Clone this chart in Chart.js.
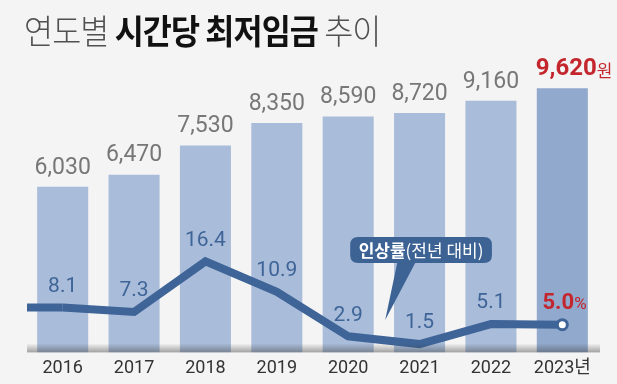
<!DOCTYPE html>
<html>
<head>
<meta charset="utf-8">
<script src="https://cdn.jsdelivr.net/npm/chart.js@4"></script>
<style>
  html, body { margin: 0; padding: 0; background: #f4f4f4; }
  #wrap { position: relative; width: 617px; height: 384px; }
  #title {
    position: absolute; left: 24px; top: 13px; white-space: nowrap;
    font-family: "Noto Sans CJK KR", sans-serif; font-size: 34px; line-height: 34px;
    letter-spacing: -1px; transform: scaleX(0.93); transform-origin: left center;
    color: #505050;
  }
  #title .lt { font-weight: 300; }
  #title b { font-weight: 700; color: #111; }
</style>
</head>
<body>
<div id="wrap">
  <canvas id="wageChart" width="617" height="384"></canvas>
  <div id="title"><span class="lt">연도별</span> <b>시간당 최저임금</b> <span class="lt">추이</span></div>
</div>
<script>
const years = ["2016", "2017", "2018", "2019", "2020", "2021", "2022", "2023"];
const yearLabels = ["2016", "2017", "2018", "2019", "2020", "2021", "2022", "2023년"];
const wages = [6030, 6470, 7530, 8350, 8590, 8720, 9160, 9620];
const rates = [8.1, 7.3, 16.4, 10.9, 2.9, 1.5, 5.1, 5.0];

const FONT = 'Roboto, "Noto Sans CJK KR", sans-serif';
const KFONT = '"Noto Sans CJK KR", sans-serif';
const lineBlue = "#3e6498";
const red = "#c4262e";

const fmt = (n) => n.toLocaleString("en-US");

// extends line to the left, draws axis shadow, labels and callout
const extras = {
  id: "extras",
  afterDatasetsDraw(chart) {
    const ctx = chart.ctx;
    const area = chart.chartArea;
    const barMeta = chart.getDatasetMeta(0);
    const lineMeta = chart.getDatasetMeta(1);
    const last = wages.length - 1;

    ctx.save();
    // bottom shadow
    const g = ctx.createLinearGradient(0, area.bottom - 9, 0, area.bottom);
    g.addColorStop(0, "rgba(60,60,60,0)");
    g.addColorStop(1, "rgba(60,60,60,0.45)");
    ctx.fillStyle = g;
    ctx.fillRect(area.left, area.bottom - 9, area.right - area.left + 2, 9);

    // line lead-in from the left edge
    const p0 = lineMeta.data[0];
    ctx.strokeStyle = lineBlue;
    ctx.lineWidth = 8;
    ctx.beginPath();
    ctx.moveTo(area.left, p0.y);
    ctx.lineTo(p0.x, p0.y);
    ctx.stroke();

    // wage labels
    ctx.textBaseline = "middle";
    barMeta.data.forEach((bar, i) => {
      const y = bar.y - 19;
      if (i === last) {
        ctx.font = "700 24px " + FONT;
        const w = ctx.measureText(fmt(wages[i])).width;
        ctx.fillStyle = red;
        ctx.textAlign = "left";
        ctx.fillText(fmt(wages[i]), bar.x - w / 2 + 4, y);
        ctx.font = "400 17px " + KFONT;
        ctx.fillText("원", bar.x + w / 2 + 4, y + 1);
      } else {
        ctx.font = "400 23px " + FONT;
        ctx.fillStyle = "#777";
        ctx.textAlign = "center";
        ctx.fillText(fmt(wages[i]), bar.x, y);
      }
    });

    // rate labels
    lineMeta.data.forEach((pt, i) => {
      const y = pt.y - 21;
      if (i === last) {
        ctx.font = "700 22px " + FONT;
        const w = ctx.measureText(rates[i].toFixed(1)).width;
        ctx.fillStyle = red;
        ctx.textAlign = "left";
        ctx.fillText(rates[i].toFixed(1), pt.x - w / 2 - 4, y);
        ctx.font = "400 17px " + FONT;
        ctx.fillText("%", pt.x + w / 2 - 4, y + 1);
      } else {
        ctx.font = "400 21px " + FONT;
        ctx.fillStyle = lineBlue;
        ctx.textAlign = "center";
        ctx.fillText(rates[i].toFixed(1), pt.x, y);
      }
    });

    // callout
    const xs = chart.scales.x;
    const bx1 = xs.getPixelForValue(4) + 2;
    const bx2 = xs.getPixelForValue(6) + 1;
    const by1 = area.top + 162;
    const by2 = area.top + 188;
    const r = 8;
    ctx.fillStyle = "#3d6395";
    ctx.beginPath();
    ctx.moveTo(bx1 + r, by1);
    ctx.lineTo(bx2 - r, by1);
    ctx.quadraticCurveTo(bx2, by1, bx2, by1 + r);
    ctx.lineTo(bx2, by2 - r);
    ctx.quadraticCurveTo(bx2, by2, bx2 - r, by2);
    ctx.lineTo(bx1 + 65, by2);
    ctx.lineTo(bx1 + 35, area.top + 245);
    ctx.lineTo(bx1 + 47, by2);
    ctx.lineTo(bx1 + r, by2);
    ctx.quadraticCurveTo(bx1, by2, bx1, by2 - r);
    ctx.lineTo(bx1, by1 + r);
    ctx.quadraticCurveTo(bx1, by1, bx1 + r, by1);
    ctx.fill();

    ctx.fillStyle = "#fff";
    ctx.textAlign = "left";
    ctx.font = "700 17px " + KFONT;
    const t1 = "인상률";
    const w1 = ctx.measureText(t1).width;
    ctx.font = "400 17px " + KFONT;
    const t2 = "(전년 대비)";
    const w2 = ctx.measureText(t2).width;
    const tx = (bx1 + bx2) / 2 - (w1 + w2) / 2;
    const ty = (by1 + by2) / 2 + 1;
    ctx.font = "700 17px " + KFONT;
    ctx.fillText(t1, tx, ty);
    ctx.font = "400 17px " + KFONT;
    ctx.fillText(t2, tx + w1, ty);
    ctx.restore();
  }
};

new Chart(document.getElementById("wageChart"), {
  type: "bar",
  data: {
    labels: yearLabels,
    datasets: [
      {
        label: "최저임금",
        data: wages,
        backgroundColor: wages.map((v, i) => (i === wages.length - 1 ? "#91a9cc" : "#a9bcd9")),
        barPercentage: 0.715,
        categoryPercentage: 1,
        yAxisID: "y",
        order: 2,
      },
      {
        type: "line",
        label: "인상률",
        data: rates,
        borderColor: lineBlue,
        borderWidth: 8,
        tension: 0,
        pointRadius: rates.map((v, i) => (i === rates.length - 1 ? 5 : 0)),
        pointBackgroundColor: "#fff",
        pointBorderColor: lineBlue,
        pointBorderWidth: 3,
        yAxisID: "y2",
        order: 1,
      },
    ],
  },
  options: {
    responsive: false,
    animation: false,
    layout: { padding: { left: 27, right: 19, top: 75, bottom: 0 } },
    plugins: { legend: { display: false }, tooltip: { enabled: false } },
    scales: {
      x: {
        offset: true,
        grid: { display: false, drawTicks: false },
        border: { display: false },
        ticks: { color: "#333", font: { family: FONT, size: 18 }, padding: 5 },
      },
      y: { display: false, min: 0, max: 10100 },
      y2: { display: false, min: 0, max: 50 },
    },
  },
  plugins: [extras],
});
</script>
</body>
</html>
